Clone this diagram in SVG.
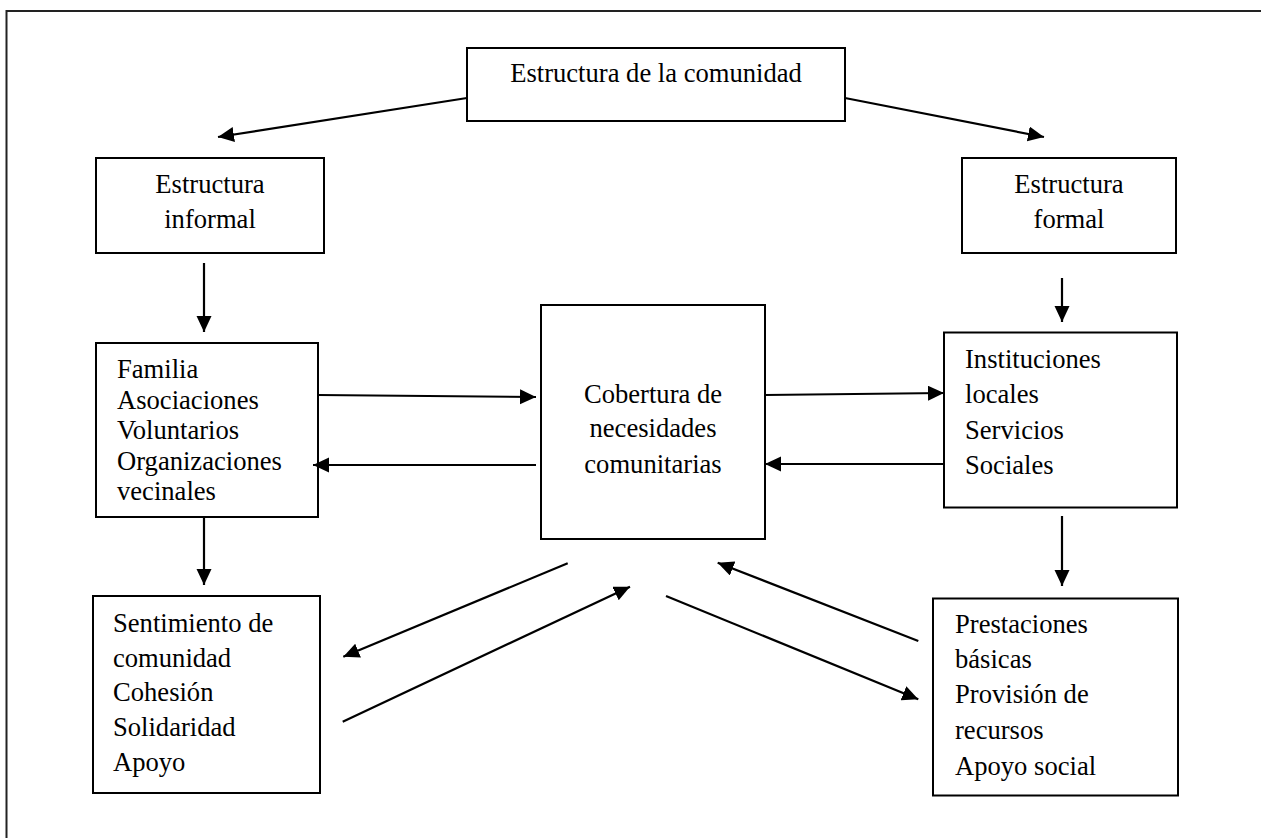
<svg xmlns="http://www.w3.org/2000/svg" width="1261" height="838" viewBox="0 0 1261 838">
  <style>
    .box { fill: #fff; stroke: #000; stroke-width: 2; }
    .t { font-family: "Liberation Serif", "Times New Roman", serif; font-size: 26.6px; fill: #000; }
    .c { text-anchor: middle; }
    .con line { stroke: #000; stroke-width: 2.2; marker-end: url(#ah); }
  </style>
  <defs>
    <marker id="ah" markerUnits="userSpaceOnUse" markerWidth="18" markerHeight="16" refX="16" refY="7.5" orient="auto">
      <path d="M0,0 L16,7.5 L0,15 z" fill="#000"/>
    </marker>
  </defs>
  <rect width="1261" height="838" fill="#fff"/>
  <path d="M6.5,838 V11 H1261" fill="none" stroke="#222" stroke-width="2"/>

  <g id="n-comunidad">
    <rect class="box" x="467" y="48" width="378" height="73"/>
    <text class="t c" x="656" y="82">Estructura de la comunidad</text>
  </g>
  <g id="n-informal">
    <rect class="box" x="96" y="158" width="228" height="95"/>
    <text class="t c" x="210" y="193">Estructura</text>
    <text class="t c" x="210" y="228">informal</text>
  </g>
  <g id="n-formal">
    <rect class="box" x="962" y="158" width="214" height="95"/>
    <text class="t c" x="1069" y="193">Estructura</text>
    <text class="t c" x="1069" y="228">formal</text>
  </g>
  <g id="n-familia">
    <rect class="box" x="96" y="343" width="222" height="174"/>
    <text class="t" x="117" y="378">Familia</text>
    <text class="t" x="117" y="408.5">Asociaciones</text>
    <text class="t" x="117" y="439">Voluntarios</text>
    <text class="t" x="117" y="469.5">Organizaciones</text>
    <text class="t" x="117" y="500">vecinales</text>
  </g>
  <g id="n-cobertura">
    <rect class="box" x="541" y="305" width="224" height="234"/>
    <text class="t c" x="653" y="403">Cobertura de</text>
    <text class="t c" x="653" y="437">necesidades</text>
    <text class="t c" x="653" y="473">comunitarias</text>
  </g>
  <g id="n-instituciones">
    <rect class="box" x="944" y="332.5" width="233" height="175"/>
    <text class="t" x="965" y="368">Instituciones</text>
    <text class="t" x="965" y="403">locales</text>
    <text class="t" x="965" y="438.5">Servicios</text>
    <text class="t" x="965" y="474">Sociales</text>
  </g>
  <g id="n-sentimiento">
    <rect class="box" x="93" y="596" width="227" height="197"/>
    <text class="t" x="113" y="632">Sentimiento de</text>
    <text class="t" x="113" y="666.5">comunidad</text>
    <text class="t" x="113" y="701">Cohesión</text>
    <text class="t" x="113" y="736">Solidaridad</text>
    <text class="t" x="113" y="771">Apoyo</text>
  </g>
  <g id="n-prestaciones">
    <rect class="box" x="933" y="598.5" width="245" height="197"/>
    <text class="t" x="955" y="633">Prestaciones</text>
    <text class="t" x="955" y="668">básicas</text>
    <text class="t" x="955" y="703">Provisión de</text>
    <text class="t" x="955" y="738.5">recursos</text>
    <text class="t" x="955" y="775">Apoyo social</text>
  </g>

  <g id="connectors" class="con">
    <line x1="467" y1="98" x2="218" y2="137"/>
    <line x1="845" y1="98" x2="1044" y2="137"/>
    <line x1="204" y1="263" x2="204" y2="332"/>
    <line x1="1062" y1="278" x2="1062" y2="322"/>
    <line x1="318" y1="395" x2="536" y2="397"/>
    <line x1="536" y1="465" x2="313" y2="465"/>
    <line x1="765" y1="395" x2="944" y2="393"/>
    <line x1="944" y1="464" x2="765" y2="464"/>
    <line x1="204" y1="517" x2="204" y2="585"/>
    <line x1="1062" y1="516" x2="1062" y2="586"/>
    <line x1="567.7" y1="563.3" x2="343.3" y2="656.7"/>
    <line x1="342.7" y1="721.7" x2="630" y2="586.7"/>
    <line x1="918.3" y1="641" x2="717.7" y2="562.7"/>
    <line x1="666" y1="596" x2="918.3" y2="699.3"/>
  </g>
</svg>
